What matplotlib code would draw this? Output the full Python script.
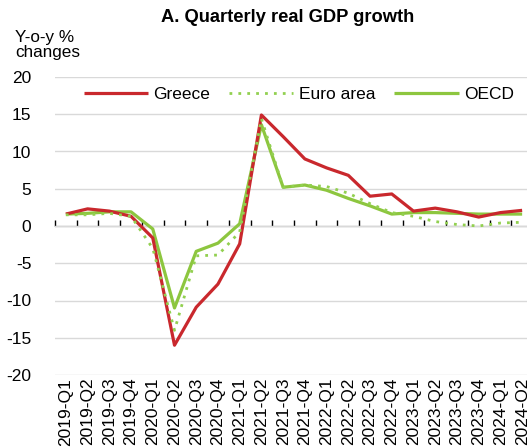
import matplotlib
matplotlib.use("Agg")
import matplotlib.pyplot as plt
import numpy as np

plt.rcParams['font.family'] = ['Liberation Sans', 'DejaVu Sans']

quarters = ["2019-Q1", "2019-Q2", "2019-Q3", "2019-Q4",
            "2020-Q1", "2020-Q2", "2020-Q3", "2020-Q4",
            "2021-Q1", "2021-Q2", "2021-Q3", "2021-Q4",
            "2022-Q1", "2022-Q2", "2022-Q3", "2022-Q4",
            "2023-Q1", "2023-Q2", "2023-Q3", "2023-Q4",
            "2024-Q1", "2024-Q2"]

greece = [1.6, 2.3, 2.0, 1.3,
          -1.6, -16.0, -10.9, -7.8,
          -2.4, 14.9, 12.0, 9.0,
          7.8, 6.8, 4.0, 4.3,
          2.0, 2.4, 1.9, 1.2,
          1.8, 2.1]

euro_area = [1.5, 1.5, 1.7, 1.3,
             -3.0, -14.0, -4.0, -3.9,
             -0.8, 14.4, 5.2, 5.5,
             5.3, 4.4, 3.0, 1.8,
             1.3, 0.6, 0.2, 0.0,
             0.4, 0.5]

oecd = [1.6, 1.7, 1.9, 1.9,
        -0.4, -11.0, -3.4, -2.3,
        0.3, 13.6, 5.2, 5.5,
        4.8, 3.7, 2.7, 1.6,
        1.8, 1.8, 1.7, 1.6,
        1.6, 1.6]

yticks = [-20, -15, -10, -5, 0, 5, 10, 15, 20]

W, H = 527, 448
fig = plt.figure(figsize=(W / 100, H / 100), dpi=100)
left, right, top, bottom = 55, 533, 77, 375
ax = fig.add_axes([left / W, 1 - bottom / H, (right - left) / W, (bottom - top) / H])

x = np.arange(len(quarters))
red = '#c9282d'
green = '#8dc63f'
green_dot = '#92d050'

ax.plot(x, oecd, color=green, lw=2.3, label='OECD', zorder=3, solid_capstyle='butt')
ax.plot(x, greece, color=red, lw=2.3, label='Greece', zorder=4, solid_capstyle='butt')
ax.plot(x, euro_area, color=green_dot, lw=2.0, linestyle=(0, (1, 2.2)), label='Euro area', zorder=5)

ax.set_xlim(-0.5, len(quarters) - 0.5)
ax.set_ylim(-20, 20)
ax.set_yticks(yticks)
ax.set_yticklabels([str(v) for v in yticks], fontsize=12.5)
ax.yaxis.grid(True, color='#d9d9d9', lw=1.0)
ax.set_axisbelow(True)
ax.tick_params(axis='y', length=0, pad=17)

ax.set_xticks(x)
ax.set_xticklabels(quarters, rotation=90, fontsize=12.5)
ax.tick_params(axis='x', length=0, pad=2)

for s in ['top', 'right', 'left', 'bottom']:
    ax.spines[s].set_visible(False)

# zero axis with tick marks at category boundaries
sec = ax.secondary_xaxis(0.5)
sec.set_xticks(np.arange(len(quarters) + 1) - 0.5)
sec.set_xticklabels([])
sec.tick_params(axis='x', direction='out', length=4, width=1.0, color='black')
sec.spines['bottom'].set_color('black')
sec.spines['bottom'].set_linewidth(1.2)

handles, labels = ax.get_legend_handles_labels()
order = [1, 2, 0]
leg = ax.legend([handles[i] for i in order], [labels[i] for i in order],
                loc='center', bbox_to_anchor=(0.51, 0.94), ncol=3, frameon=False,
                fontsize=12.5, handlelength=3.7, handletextpad=0.3, columnspacing=1.1)

fig.text(288 / W, 1 - 17 / H, 'A. Quarterly real GDP growth', ha='center', va='center',
         fontsize=13.2, fontweight='bold')
fig.text(15 / W, 1 - 45 / H, 'Y-o-y %\nchanges', ha='left', va='center', fontsize=12.3,
         linespacing=0.95)

fig.savefig('out.png', dpi=100, facecolor='white')
